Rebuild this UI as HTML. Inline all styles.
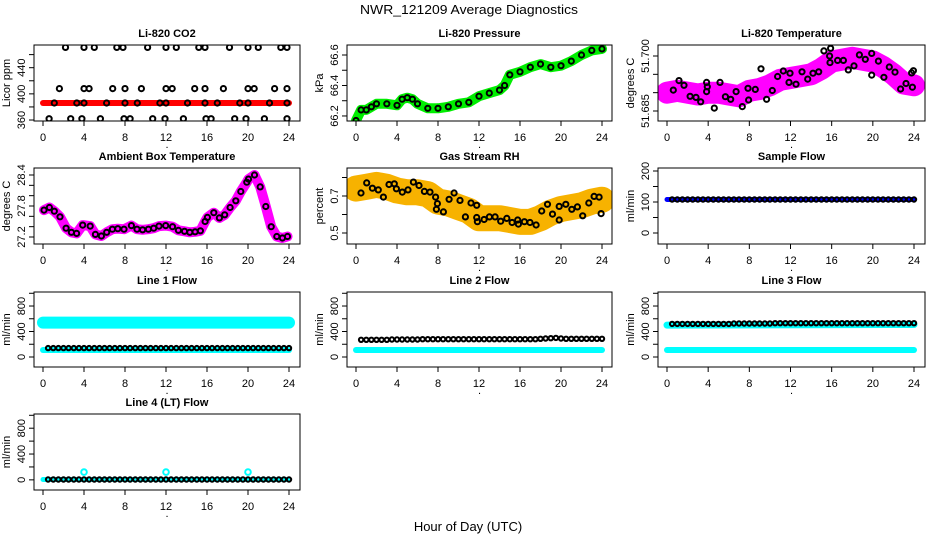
<!DOCTYPE html>
<html><head><meta charset="utf-8">
<style>
html,body{margin:0;padding:0;background:#fff;}
svg{display:block;font-family:"Liberation Sans",sans-serif;}
.tk{font-size:11px;fill:#000;}
.ttl{font-size:11px;font-weight:bold;fill:#000;}
</style></head>
<body>
<svg id="chart" width="936" height="540" viewBox="0 0 936 540" xmlns="http://www.w3.org/2000/svg">
<rect x="0" y="0" width="936" height="540" fill="#fff"/>
<text x="469" y="14" text-anchor="middle" font-size="13" textLength="218" lengthAdjust="spacingAndGlyphs">NWR_121209  Average Diagnostics</text>
<text x="468" y="531" text-anchor="middle" font-size="13">Hour of Day (UTC)</text>
</svg>
<script>
// ---------- data ----------
const xTicks = [0,4,8,12,16,20,24];
const halfHours = [0.5,1,1.5,2,2.5,3,3.5,4,4.5,5,5.5,6,6.5,7,7.5,8,8.5,9,9.5,10,10.5,11,11.5,12,12.5,13,13.5,14,14.5,15,15.5,16,16.5,17,17.5,18,18.5,19,19.5,20,20.5,21,21.5,22,22.5,23,23.5,24];
const hours = [0,1,2,3,4,5,6,7,8,9,10,11,12,13,14,15,16,17,18,19,20,21,22,23,24];

// CO2
const co2BandT = [0,24];
const co2BandV = [386,386];
const co2T = [2.2,4,5,7.2,7.8,10.2,12,13,15.2,15.8,18.2,20,21,23.2,23.8,
  1.6,4,4.5,6.8,8,9.6,12,12.6,14.8,15.8,17.6,20,20.6,22.6,23.8,
  1.1,3.3,4,6.2,8,9.2,11.4,12,14.1,15.8,17,19.2,20,22.1,23.8,
  0.6,2.7,3.8,5.6,7.9,8.5,10.7,11.9,13.7,15.9,16.4,18.7,19.8,21.6,23.8];
const co2V = [471,471,471,471,471,471,471,471,471,471,471,471,471,471,471,
  408,408,408,408,408,408,408,408,408,408,408,408,408,408,408,
  386,386,386,386,386,386,386,386,386,386,386,386,386,386,386,
  362,362,362,362,362,362,362,362,362,362,362,362,362,362,362];

// Pressure
const presT = [0,0.5,1,1.5,2,3,4,4.5,5,5.5,6,7,8,9,10,11,12,13,14,14.5,15,16,17,18,19,20,21,22,23,24];
const presV = [66.17,66.24,66.24,66.26,66.28,66.28,66.27,66.31,66.32,66.31,66.28,66.25,66.25,66.26,66.28,66.29,66.33,66.35,66.37,66.4,66.47,66.49,66.52,66.54,66.52,66.53,66.56,66.6,66.63,66.64];

// Li-820 temperature
const tempBandV = [51.690,51.6905,51.690,51.6895,51.690,51.690,51.6895,51.689,51.6905,51.691,51.692,51.6935,51.694,51.6945,51.695,51.6965,51.6985,51.699,51.6995,51.699,51.6985,51.697,51.695,51.6925,51.692];
const tempT = [0.61,1.17,1.65,2.24,2.82,3.27,3.85,3.92,3.85,4.60,5.15,5.67,6.19,6.71,7.32,7.87,7.93,8.58,9.13,9.68,10.23,10.75,11.30,11.85,11.95,12.53,13.12,13.67,14.19,14.74,15.25,15.80,15.84,15.90,16.58,17.14,17.62,18.17,18.69,19.27,19.89,19.89,20.54,21.08,21.60,22.15,22.70,23.22,23.77,23.94,23.84];
const tempV = [51.6907,51.6933,51.692,51.689,51.6887,51.6875,51.6928,51.6916,51.6903,51.6858,51.6928,51.6889,51.6882,51.6903,51.6862,51.6912,51.688,51.6909,51.6965,51.6882,51.6906,51.6944,51.6959,51.6928,51.6953,51.6923,51.6957,51.6937,51.6953,51.6957,51.7014,51.700,51.6982,51.7021,51.6988,51.6988,51.6962,51.6973,51.7003,51.6991,51.7007,51.6948,51.6986,51.6942,51.697,51.6956,51.691,51.6925,51.6954,51.696,51.6915];

// Ambient box temperature
const ambT = [0.1,0.62,1.1,1.66,2.25,2.77,3.28,3.87,4.6,5.11,5.7,6.21,6.77,7.3,7.9,8.62,9.17,9.72,10.28,10.8,11.32,11.97,12.63,13.21,13.8,14.32,14.84,15.36,15.81,16.04,16.66,17.21,17.73,18.25,18.81,19.3,19.88,20.05,20.63,21.19,21.74,22.26,22.81,23.36,23.85];
const ambV = [27.72,27.77,27.70,27.59,27.37,27.29,27.27,27.43,27.41,27.25,27.22,27.29,27.35,27.36,27.35,27.42,27.35,27.34,27.35,27.37,27.41,27.42,27.40,27.33,27.31,27.29,27.30,27.32,27.50,27.58,27.67,27.57,27.63,27.77,27.90,28.08,28.26,28.32,28.40,28.17,27.79,27.40,27.21,27.18,27.21];

// Gas stream RH
const rhBandV = [0.74,0.75,0.76,0.75,0.73,0.72,0.72,0.71,0.67,0.66,0.64,0.62,0.58,0.58,0.58,0.57,0.56,0.56,0.58,0.61,0.63,0.64,0.65,0.67,0.68];
const rhT = [0.49,1.04,1.6,2.18,2.67,3.22,3.74,3.94,4.52,5.07,5.6,6.15,6.67,7.22,7.77,7.84,7.94,8.53,9.08,9.57,10.15,10.67,11.22,11.78,11.78,11.84,12.5,13.01,13.57,14.12,14.71,15.23,15.78,15.84,16.43,16.98,17.57,18.12,18.68,19.17,19.82,19.82,20.47,21.05,21.6,22.12,22.71,23.23,23.72,23.91];
const rhV = [0.716,0.771,0.742,0.733,0.694,0.762,0.766,0.739,0.721,0.733,0.775,0.757,0.725,0.721,0.694,0.628,0.659,0.614,0.682,0.716,0.676,0.587,0.662,0.65,0.584,0.561,0.573,0.587,0.587,0.564,0.579,0.557,0.57,0.548,0.561,0.557,0.543,0.619,0.655,0.602,0.644,0.57,0.655,0.628,0.641,0.593,0.662,0.698,0.694,0.605];

// Flows
const flatT = [0,24];
const sampleBandV = [108,108];
const sampleV = [108,108,108,108,108,108,108,108,108,108,108,108,108,108,108,108,108,108,108,108,108,108,108,108,108,108,108,108,108,108,108,108,108,108,108,108,108,108,108,108,108,108,108,108,108,108,108,108];
const line1HighV = [540,540];
const line1LowV = [110,110];
const line1V = [140,140,140,140,140,140,140,140,140,140,140,140,140,140,140,140,140,140,140,140,140,140,140,140,140,140,140,140,140,140,140,140,140,140,140,140,140,140,140,140,140,140,140,140,140,140,140,140];
const line2LowV = [110,110];
const line2V = [270,270,270,270,270,270,275,275,275,275,275,275,280,280,280,280,280,280,280,280,280,280,280,280,280,280,280,280,280,280,280,280,280,280,280,285,290,295,300,290,285,285,285,285,285,285,285,285];
const line3LowV = [110,110];
const line3HighV = [500,510];
const line3V = [520,520,520,520,520,520,520,520,520,520,520,520,525,525,525,525,525,525,525,525,530,530,530,530,530,530,530,530,530,530,530,530,530,530,530,530,530,530,530,530,530,530,530,530,530,530,530,530];
const line4BandV = [5,5];
const line4V = [5,5,5,5,5,5,5,5,5,5,5,5,5,5,5,5,5,5,5,5,5,5,5,5,5,5,5,5,5,5,5,5,5,5,5,5,5,5,5,5,5,5,5,5,5,5,5,5];
const line4SpikeT = [4,12,20];
const line4SpikeV = [120,120,120];

// ---------- drawing ----------
const svg = document.getElementById('chart');
const NS = 'http://www.w3.org/2000/svg';
function mk(tag, attrs, parent){
  const e = document.createElementNS(NS, tag);
  for (const k in attrs) e.setAttribute(k, attrs[k]);
  (parent||svg).appendChild(e);
  return e;
}
const cols = [{l:34,r:300,x0:43,x1:289},{l:347,r:612,x0:356,x1:602},{l:658,r:925,x0:667,x1:914}];
const rows = [{t:45,b:121},{t:168,b:244},{t:292,b:367},{t:414,b:490}];

function panel(cfg){
  const c = cols[cfg.col], r = rows[cfg.row];
  const g = mk('g', {});
  
  
  const xs = t => c.x0 + (c.x1 - c.x0) * t / 24;
  const ys = v => r.b - (r.b - r.t) * (v - cfg.dom[0]) / (cfg.dom[1] - cfg.dom[0]);
  const clipId = 'clip-' + cfg.name;
  const cp = mk('clipPath', {id: clipId}, g);
  mk('rect', {x:c.l, y:r.t, width:c.r-c.l, height:r.b-r.t}, cp);
  const plot = mk('g', {'clip-path':'url(#'+clipId+')'}, g);
  
  
  cfg.series.forEach(s => {
    if (s.type === 'band') {
      const pts = s.t.map((t,i) => xs(t).toFixed(1)+','+ys(s.v[i]).toFixed(1)).join(' ');
      const pl = mk('polyline', {points:pts, fill:'none', stroke:s.color, 'stroke-width':s.w, 'stroke-linecap':'round', 'stroke-linejoin':'round'}, plot);
      
      
    } else {
      s.t.forEach((t,i) => {
        const ci = mk('circle', {cx:xs(t).toFixed(1), cy:ys(s.v[i]).toFixed(1), r:s.r||2.6, fill:'none', stroke:s.color, 'stroke-width':s.sw||2}, plot);
        
        
      });
    }
  });
  const box = mk('rect', {x:c.l, y:r.t, width:c.r-c.l, height:r.b-r.t, fill:'none', stroke:'#000', 'stroke-width':1}, g);
  
  
  // x axis
  const xa = mk('g', {}, g);
  
  
  mk('line', {x1:xs(0), x2:xs(24), y1:r.b, y2:r.b, stroke:'#000'}, xa);
  xTicks.forEach(t => {
    mk('line', {x1:xs(t), x2:xs(t), y1:r.b, y2:r.b+5, stroke:'#000'}, xa);
    const tx = mk('text', {x:xs(t), y:r.b+20, 'text-anchor':'middle', class:'tk'}, xa);
    tx.textContent = t;
    
    
  });
  const dot = mk('text', {x:(c.l+c.r)/2, y:r.b+27, 'text-anchor':'middle', class:'tk'}, xa);
  dot.textContent = '.';
  // y axis
  const ya = mk('g', {}, g);
  
  
  const yt = cfg.yticks;
  mk('line', {x1:c.l, x2:c.l, y1:ys(yt[0]), y2:ys(yt[yt.length-1]), stroke:'#000'}, ya);
  yt.forEach(v => mk('line', {x1:c.l-5, x2:c.l, y1:ys(v), y2:ys(v), stroke:'#000'}, ya));
  cfg.ylabels.forEach(v => {
    const y = ys(v), x = c.l - 9;
    const tx = mk('text', {x:x, y:y, 'text-anchor':'middle', class:'tk', transform:'rotate(-90 '+x+' '+y+')'}, ya);
    tx.textContent = cfg.fmt ? cfg.fmt(v) : v;
    
    
  });
  const lx = c.l - 24, ly = (r.t + r.b) / 2;
  const yl = mk('text', {x:lx, y:ly, 'text-anchor':'middle', class:'tk', transform:'rotate(-90 '+lx+' '+ly+')'}, ya);
  yl.textContent = cfg.ylab;
  
  
  const tt = mk('text', {x:(c.l+c.r)/2, y:r.t-8, 'text-anchor':'middle', class:'ttl'}, g);
  tt.textContent = cfg.title;
  
  
}
const flowTicks = [0,200,400,600,800,1000];
const flowLabels = [0,400,800];
const flowDom = [-157,1020];

panel({name:'co2-panel', title:'Li-820 CO2', ylab:'Licor ppm', col:0, row:0, dom:[358.5,474.7],
  yticks:[360,380,400,420,440,460], ylabels:[360,400,440],
  series:[{type:'band', t:co2BandT, v:co2BandV, color:'#ff0000', w:6, label:'co2-band'},
          {type:'pts', t:co2T, v:co2V, color:'#000', label:'co2-point'}]});
panel({name:'pressure-panel', title:'Li-820 Pressure', ylab:'kPa', col:1, row:0, dom:[66.167,66.6656],
  yticks:[66.2,66.3,66.4,66.5,66.6], ylabels:[66.2,66.4,66.6], fmt:v=>v.toFixed(1),
  series:[{type:'band', t:presT, v:presV, color:'#00ee00', w:10, label:'pressure-band'},
          {type:'pts', t:presT, v:presV, color:'#000', label:'pressure-point'}]});
panel({name:'temperature-panel', title:'Li-820 Temperature', ylab:'degrees C', col:2, row:0, dom:[51.68227,51.70300],
  yticks:[51.685,51.690,51.695,51.700], ylabels:[51.685,51.700], fmt:v=>v.toFixed(3),
  series:[{type:'band', t:hours, v:tempBandV, color:'#ff00ff', w:22, label:'temperature-band'},
          {type:'pts', t:tempT, v:tempV, color:'#000', label:'temperature-point'}]});
panel({name:'ambient-panel', title:'Ambient Box Temperature', ylab:'degrees C', col:0, row:1, dom:[27.0645,28.5355],
  yticks:[27.2,27.4,27.6,27.8,28.0,28.2,28.4], ylabels:[27.2,27.8,28.4], fmt:v=>v.toFixed(1),
  series:[{type:'band', t:ambT, v:ambV, color:'#ff00ff', w:10, label:'ambient-band'},
          {type:'pts', t:ambT, v:ambV, color:'#000', label:'ambient-point'}]});
panel({name:'rh-panel', title:'Gas Stream RH', ylab:'percent', col:1, row:1, dom:[0.4405,0.8514],
  yticks:[0.5,0.6,0.7,0.8], ylabels:[0.5,0.7], fmt:v=>v.toFixed(1),
  series:[{type:'band', t:hours, v:rhBandV, color:'#f7b200', w:26, label:'rh-band'},
          {type:'pts', t:rhT, v:rhV, color:'#000', label:'rh-point'}]});
panel({name:'sample-flow-panel', title:'Sample Flow', ylab:'ml/min', col:2, row:1, dom:[-35.5,209.7],
  yticks:[0,50,100,150,200], ylabels:[0,100,200],
  series:[{type:'band', t:flatT, v:sampleBandV, color:'#0000ff', w:5, label:'sample-band'},
          {type:'pts', t:halfHours, v:sampleV, color:'#000', r:2.2, label:'sample-point'}]});
panel({name:'line1-flow-panel', title:'Line 1 Flow', ylab:'ml/min', col:0, row:2, dom:flowDom,
  yticks:flowTicks, ylabels:flowLabels,
  series:[{type:'band', t:flatT, v:line1HighV, color:'#00ffff', w:12, label:'line1-high-band'},
          {type:'band', t:flatT, v:line1LowV, color:'#00ffff', w:6, label:'line1-low-band'},
          {type:'pts', t:halfHours, v:line1V, color:'#000', r:2.2, label:'line1-point'}]});
panel({name:'line2-flow-panel', title:'Line 2 Flow', ylab:'ml/min', col:1, row:2, dom:flowDom,
  yticks:flowTicks, ylabels:flowLabels,
  series:[{type:'band', t:flatT, v:line2LowV, color:'#00ffff', w:6, label:'line2-low-band'},
          {type:'pts', t:halfHours, v:line2V, color:'#000', r:2.2, label:'line2-point'}]});
panel({name:'line3-flow-panel', title:'Line 3 Flow', ylab:'ml/min', col:2, row:2, dom:flowDom,
  yticks:flowTicks, ylabels:flowLabels,
  series:[{type:'band', t:flatT, v:line3LowV, color:'#00ffff', w:6, label:'line3-low-band'},
          {type:'band', t:flatT, v:line3HighV, color:'#00ffff', w:7, label:'line3-high-band'},
          {type:'pts', t:halfHours, v:line3V, color:'#000', r:2.2, label:'line3-point'}]});
panel({name:'line4-flow-panel', title:'Line 4 (LT) Flow', ylab:'ml/min', col:0, row:3, dom:flowDom,
  yticks:flowTicks, ylabels:flowLabels,
  series:[{type:'band', t:flatT, v:line4BandV, color:'#00ffff', w:5, label:'line4-band'},
          {type:'pts', t:line4SpikeT, v:line4SpikeV, color:'#00ffff', r:2.8, label:'line4-spike'},
          {type:'pts', t:halfHours, v:line4V, color:'#000', r:2.2, label:'line4-point'}]});
</script>
</body></html>
